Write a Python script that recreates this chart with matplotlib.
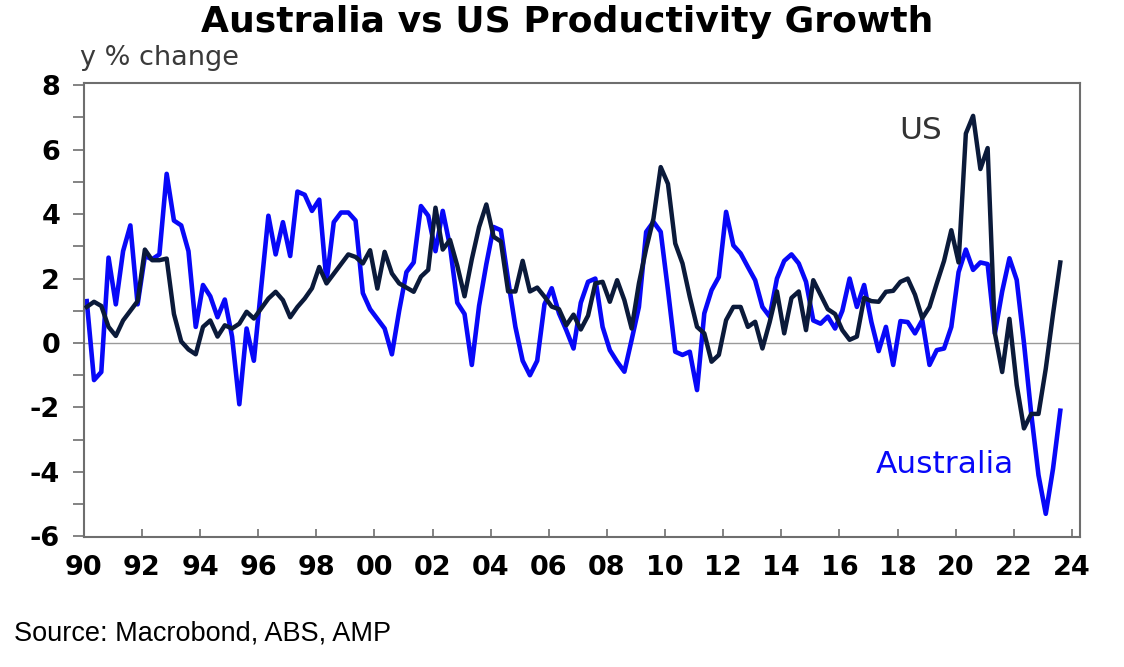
import numpy as np
import pandas as pd
import matplotlib
matplotlib.use('Agg')
import matplotlib.pyplot as plt

plt.rcParams['axes.unicode_minus'] = False

# quarterly, 1990Q1 .. 2023Q3, y/y % change
quarters = pd.period_range('1990Q1', '2023Q3', freq='Q')

australia = [
    1.3, -1.15, -0.9, 2.65, 1.2, 2.85, 3.65, 1.2, 2.7, 2.6,
    2.75, 5.25, 3.8, 3.65, 2.85, 0.5, 1.8, 1.45, 0.8, 1.35,
    0.2, -1.9, 0.45, -0.55, 1.7, 3.95, 2.75, 3.75, 2.7, 4.7,
    4.6, 4.1, 4.45, 1.9, 3.75, 4.05, 4.05, 3.8, 1.55, 1.05,
    0.75, 0.45, -0.35, 1.0, 2.2, 2.5, 4.25, 3.95, 2.85, 4.1,
    3.0, 1.25, 0.9, -0.68, 1.15, 2.45, 3.6, 3.5, 1.95, 0.5,
    -0.55, -1.0, -0.55, 1.2, 1.7, 0.92, 0.4, -0.17, 1.25, 1.9,
    2.0, 0.5, -0.22, -0.58, -0.89, 0.1, 1.12, 3.45, 3.76, 3.45,
    1.64, -0.27, -0.37, -0.27, -1.46, 0.92, 1.64, 2.05, 4.07, 3.03,
    2.78, 2.36, 1.95, 1.12, 0.82, 2.0, 2.55, 2.75, 2.47, 1.9,
    0.7, 0.6, 0.82, 0.45, 1.0, 2.0, 1.12, 1.8, 0.65, -0.25,
    0.5, -0.68, 0.68, 0.65, 0.3, 0.71, -0.68, -0.22, -0.17, 0.5,
    2.2, 2.9, 2.27, 2.5, 2.45, 0.3, 1.6, 2.63, 1.96, 0.0,
    -2.2, -4.1, -5.3, -3.9, -2.1,
]

us = [
    1.12, 1.28, 1.15, 0.5, 0.22, 0.7, 1.0, 1.3, 2.9, 2.57,
    2.57, 2.62, 0.9, 0.05, -0.2, -0.35, 0.5, 0.7, 0.2, 0.55,
    0.45, 0.6, 0.97, 0.76, 1.07, 1.38, 1.59, 1.33, 0.8, 1.12,
    1.38, 1.7, 2.36, 1.85, 2.15, 2.45, 2.75, 2.67, 2.47, 2.88,
    1.69, 2.83, 2.16, 1.85, 1.72, 1.59, 2.06, 2.27, 4.2, 2.9,
    3.2, 2.4, 1.45, 2.6, 3.6, 4.3, 3.3, 3.15, 1.6, 1.6,
    2.55, 1.6, 1.72, 1.44, 1.13, 1.05, 0.55, 0.88, 0.42, 0.85,
    1.85, 1.9, 1.28, 1.95, 1.33, 0.45, 1.85, 2.93, 3.86, 5.46,
    4.94, 3.09, 2.47, 1.43, 0.5, 0.3, -0.58, -0.37, 0.71, 1.12,
    1.12, 0.5, 0.66, -0.17, 0.65, 1.6, 0.3, 1.4, 1.6, 0.4,
    1.95, 1.5, 1.05, 0.9, 0.4, 0.1, 0.2, 1.4, 1.3, 1.28,
    1.59, 1.62, 1.9, 2.0, 1.5, 0.77, 1.12, 1.85, 2.55, 3.5,
    2.5, 6.5, 7.05, 5.4, 6.05, 0.3, -0.9, 0.75, -1.3, -2.65,
    -2.2, -2.2, -0.8, 0.9, 2.5,
]

x = np.array([p.year + (p.quarter - 1) / 4 + 0.1 for p in quarters])

AUS_COLOR = '#0808f8'
US_COLOR = '#0b1a3a'
SPINE_COLOR = '#6e6e6e'

fig = plt.figure(figsize=(11.24, 6.67), dpi=100)
ax = fig.add_axes([0.0746, 0.1949, 0.8863, 0.6807])

ax.axhline(0, color='#9a9a9a', linewidth=1.0, zorder=1)
ax.plot(x, us, color=US_COLOR, linewidth=3.2, zorder=3)
ax.plot(x, australia, color=AUS_COLOR, linewidth=3.3, zorder=2)

ax.set_xlim(1990.0, 2024.28)
ax.set_ylim(-6.02, 8.07)

xticks = np.arange(1990, 2025, 2)
ax.set_xticks(xticks)
ax.set_xticklabels([f'{t % 100:02d}' for t in xticks])
ax.set_yticks(np.arange(-6, 9, 2))
ax.set_yticks(np.arange(-6, 9, 1), minor=True)

for lab in ax.get_xticklabels() + ax.get_yticklabels():
    lab.set_fontfamily('DejaVu Sans')
    lab.set_fontweight('bold')
    lab.set_fontsize(19.5)
    lab.set_color('black')

ax.tick_params(axis='x', direction='in', length=6, width=1.2, color=SPINE_COLOR, pad=13)
ax.tick_params(axis='y', which='both', direction='out', length=8, width=1.2,
               color=SPINE_COLOR, pad=9)
ax.tick_params(axis='x', which='minor', length=0)

for sp in ax.spines.values():
    sp.set_color(SPINE_COLOR)
    sp.set_linewidth(1.5)

ax.text(2018.8, 6.6, 'US', color='#333333', fontsize=22.5, family='DejaVu Sans',
        ha='center', va='center')
ax.text(2019.63, -3.78, 'Australia', color=AUS_COLOR, fontsize=22.5, family='DejaVu Sans',
        ha='center', va='center')

fig.text(0.5045, 1 - 22 / 667, 'Australia vs US Productivity Growth', ha='center', va='center',
         fontsize=26, fontweight='bold', family='DejaVu Sans', color='black')
fig.text(80 / 1124, 1 - 58 / 667, 'y % change', ha='left', va='center',
         fontsize=19.5, family='DejaVu Sans', color='#3a3a3a')
fig.text(14 / 1124, 1 - 633 / 667, 'Source: Macrobond, ABS, AMP', ha='left', va='center',
         fontsize=19.5, family='Liberation Sans', color='black')

fig.savefig('out.png', dpi=100, facecolor='white')
